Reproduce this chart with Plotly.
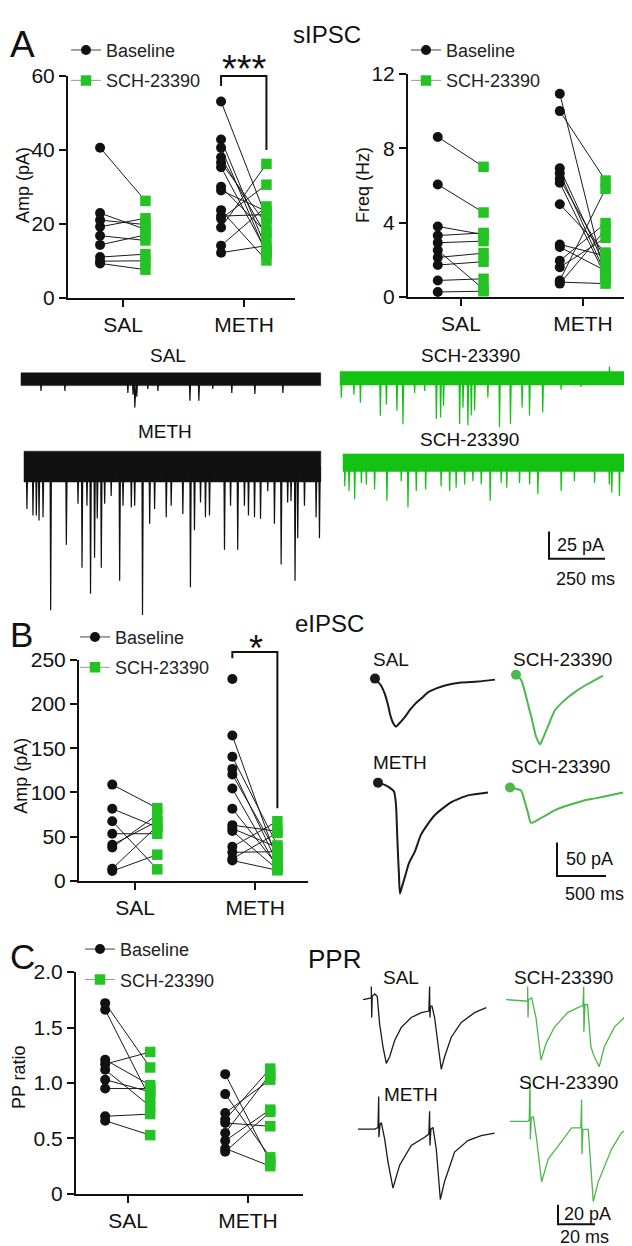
import plotly.graph_objects as go

W, H = 632, 1246
FONT = "Liberation Sans, Arial, sans-serif"
BLACK = "#111111"
GREEN_MK = "#22C322"
GREEN_TR = "#14C214"
GREEN_EV = "#4CB84C"

groups = ["SAL", "METH"]

# ---------------- paired data (Baseline -> SCH-23390) ----------------
a_amp_sal_base = [40.6, 22.9, 21.0, 19.2, 16.8, 14.3, 11.0, 9.9, 9.3]
a_amp_sal_sch = [26.2, 18.5, 19.8, 21.5, 15.5, 17.0, 11.8, 10.0, 7.6]
a_amp_meth_base = [53.1, 42.8, 40.6, 38.0, 36.6, 35.3, 30.0, 29.0, 23.7, 22.1, 21.4, 19.0, 14.1, 12.2]
a_amp_meth_sch = [21.6, 13.2, 11.9, 16.8, 19.9, 12.5, 17.7, 23.4, 10.1, 22.5, 30.6, 36.2, 24.7, 14.1]

a_freq_sal_base = [8.61, 6.05, 3.79, 3.30, 2.91, 2.51, 2.12, 1.71, 0.88, 0.26]
a_freq_sal_sch = [7.0, 4.54, 3.35, 3.44, 3.0, 0.41, 2.35, 1.89, 0.97, 0.30]
a_freq_meth_base = [10.94, 10.0, 6.92, 6.65, 6.35, 6.14, 4.98, 2.82, 2.68, 1.94, 1.59, 0.88, 0.79, 0.71]
a_freq_meth_sch = [0.97, 6.26, 1.59, 1.24, 2.03, 1.1, 2.38, 2.2, 1.4, 3.97, 3.18, 5.82, 0.71, 3.62]

b_amp_sal_base = [108.9, 81.5, 67.4, 53.3, 40.7, 37.8, 13.7, 11.1]
b_amp_sal_sch = [82.2, 60.7, 13.0, 53.3, 67.4, 74.8, 62.0, 29.6]
b_amp_meth_base = [228.5, 164.4, 140.4, 126.7, 120.4, 104.4, 81.5, 63.0, 59.3, 56.3, 38.5, 32.2, 24.8, 23.0]
b_amp_meth_sch = [None, 23.0, 40.0, 20.0, 30.4, 15.0, 17.4, 56.0, 37.8, 13.0, 67.4, 33.0, 54.4, 11.9]

c_ppr_sal_base = [1.72, 1.66, 1.21, 1.17, 1.12, 1.03, 0.95, 0.70, 0.66]
c_ppr_sal_sch = [1.14, 0.86, 0.98, 1.28, 0.79, 0.92, 0.95, 0.72, 0.53]
c_ppr_meth_base = [1.08, 0.90, 0.73, 0.67, 0.64, 0.55, 0.48, 0.41, 0.38]
c_ppr_meth_sch = [0.29, 0.33, 1.03, 1.13, 0.61, 1.08, 0.76, 0.25, 0.74]

# ---------------- sIPSC example traces (event time ms, amplitude pA) ----------------
sal_ev_t = [89, 196, 477, 500, 508, 517, 566, 611, 754, 794, 856, 941, 1044, 1169]
sal_ev_a = [10.7, 10.7, 12.5, 14, 25.8, 16, 8.9, 10.7, 19.6, 19.6, 8.9, 12.5, 13.4, 12.5]
sal_noise, sal_dur = 5.8, 1338

sch1_ev_t = [6, 62, 91, 180, 207, 254, 281, 333, 378, 430, 449, 462, 534, 549, 571, 586, 601, 660,
             712, 761, 813, 846, 905, 987, 1076, 1203, 1298]
sch1_ev_a = [17.8, 14.9, 22.3, 34.1, 23.8, 29.6, 41.8, 13.4, 11.6, 37.1, 35.6, 24.9, 41.6, 26.7, 42.7,
             33.8, 29.4, 17.8, 44.5, 41.6, 26.7, 33.8, 31.2, 10.4, 8.0, -10.7, -10.7]
sch1_noise, sch1_dur = 6.2, 1320

meth_ev_t = [13, 40, 55, 67, 85, 119, 189, 241, 259, 281, 297, 315, 327, 345, 360, 389, 427, 442, 479,
             494, 529, 561, 583, 635, 657, 709, 743, 761, 788, 810, 828, 895, 922, 954, 984, 1002, 1029,
             1056, 1088, 1118, 1148, 1177, 1192, 1210, 1222, 1252, 1304, 1319]
meth_ev_a = [38.5, 44.5, 44.5, 49, 46, 130.6, 71.2, 33.8, 91.9, 35.6, 115.7, 83, 47.2, 91.9, 33.8, 26.7,
             103.9, 35.6, 37.1, 35.6, 135, 51.9, 38.5, 46, 35.6, 43, 109.7, 57.9, 32.7, 46, 44.5, 75.7,
             35.6, 75.7, 35.6, 44.5, 46, 47.4, 22.3, 51.9, 89, 32.7, 31.2, 103.9, 65.2, 35.6, 46, 65.2]
meth_noise, meth_dur = 14, 1325

sch2_ev_t = [8, 27, 52, 82, 104, 141, 196, 260, 290, 327, 369, 438, 476, 505, 543, 580, 617, 657, 706,
             731, 788, 833, 870, 974, 1033, 1123, 1189, 1200, 1234, 1279]
sch2_ev_a = [21.4, 25.8, 33.2, 18.4, 19.8, 24.3, 34.7, 16.9, 40.7, 25.8, 24.3, 21.4, 25.8, 22.9, 19.8,
             16.9, 19.8, 34.7, 18.4, 22.9, 18.4, 19.8, 28.7, 25.8, 16.9, 18.4, 19.8, 27.3, 30.3, 15.4]
sch2_noise, sch2_dur = 8, 1302

# ---------------- eIPSC example traces (ms, pA) ----------------
e_sal_t = [0, 61, 102, 133, 153, 184, 214, 245, 306, 357, 408, 475, 541, 626, 714, 877, 1050, 1224]
e_sal_i = [0, -10.3, -23.5, -39.7, -52.9, -66.2, -72.0, -67.6, -57.3, -47.0, -38.2, -29.4, -20.6, -14.7,
           -10.3, -5.9, -4.4, -1.5]
e_sch1_t = [0, 51, 92, 122, 153, 173, 204, 245, 270, 296, 347, 398, 464, 531, 612, 704, 796, 887]
e_sch1_i = [0, -7.4, -26.5, -44.1, -61.7, -73.5, -92.6, -104.4, -97.0, -88.2, -69.8, -52.9, -42.6, -33.8,
            -25.0, -16.2, -8.8, -1.5]
e_meth_t = [0, 61, 102, 163, 184, 194, 204, 214, 224, 245, 275, 316, 377, 439, 510, 581, 663, 745, 918, 1122]
e_meth_i = [0, -2.9, -5.9, -13.2, -33.8, -70.6, -107.3, -138.2, -166.1, -155.8, -141.1, -120.5, -102.9,
            -77.9, -61.7, -48.5, -38.2, -29.4, -19.1, -14.7]
e_sch2_t = [0, 51, 112, 133, 153, 184, 214, 265, 316, 388, 459, 561, 663, 765, 867, 1010, 1153]
e_sch2_i = [0, -1.5, -4.4, -11.8, -22.1, -38.2, -52.9, -50.0, -45.6, -39.7, -33.8, -27.9, -23.5, -19.1,
            -16.2, -11.8, -7.4]

# ---------------- PPR example traces (ms, pA) ----------------
p_sal_t = [0, 3.6, 4.5, 4.5, 4.7, 5.0, 6.3, 7.7, 9.0, 10.8, 12.6, 14.4, 17.1, 20.7, 26.1, 31.5, 35.6,
           36.0, 36.2, 36.5, 37.3, 38.7, 40.5, 42.3, 44.1, 47.7, 53.1, 60.3, 66.6]
p_sal_i = [0, 1.7, 1.7, 13.3, -18.3, 3.3, 5.7, 3.3, -25, -48.3, -65, -58.3, -41.7, -28.3, -18.3, -13.3,
           -11.7, 13.3, -18.3, -6.7, -6.7, -18.3, -45, -71, -58.3, -38.3, -23.3, -13.3, -8.3]
p_sch1_t = [0, 9.9, 11.7, 11.7, 11.9, 12.2, 13.9, 16.2, 18.9, 21.6, 26.1, 33.3, 40.5, 41.6, 42.0, 42.1,
            42.7, 44.1, 45.9, 47.7, 50.4, 53.1, 58.5, 65.7, 72.0]
p_sch1_i = [0, -1.7, -1.7, 13.3, -18.3, 0, 1.7, -18.3, -61.7, -45, -28.3, -13.3, -6.7, -6.7, 13.3, -33.3,
            -5, -5, -48.3, -58.3, -68.3, -48.3, -28.3, -15, -16.7]
p_meth_t = [0, 9.0, 10.8, 11.2, 11.3, 11.9, 12.6, 14.4, 16.2, 18.9, 22.5, 28.8, 36.0, 38.3, 38.7, 38.9,
            39.4, 40.5, 42.3, 44.5, 46.8, 52.2, 59.4, 66.6, 73.8]
p_meth_i = [0, 0, 1.7, 33.3, -8.3, 5, 6.7, -10, -33.3, -60, -36.7, -16.7, -8.3, -5, 18.3, -16.7, 0, 1.7,
            -20, -71.7, -53.3, -23.3, -11.7, -6.7, -4]
p_sch2_t = [0, 9.9, 10.4, 10.8, 11.0, 11.5, 12.6, 14.4, 17.1, 20.7, 26.1, 33.3, 38.3, 38.7, 38.9, 39.4,
            42.3, 44.1, 45.0, 47.7, 54.9, 60.3, 65.7]
p_sch2_i = [0, 0, 1.7, 43.3, -18.3, 3.3, 5, -18.3, -61.7, -38.3, -25, -6.7, -6.7, 22.3, -33.3, -8.3, -8.3,
            -61.7, -81.7, -61.7, -28.3, -11.7, -5]

# scale bars (pA, ms)
sips_bar = (25, 250)
eips_bar = (50, 500)
ppr_bar = (20, 20)

# ---------------- layout helpers ----------------
def fx(px):
    return px / W


def fy(py):
    return 1 - py / H


OFF_B, OFF_S = 0.19, 0.185
TICKFONT = 21

fig = go.Figure()
layout = dict(width=W, height=H, margin=dict(l=0, r=0, t=0, b=0), paper_bgcolor="white",
              plot_bgcolor="rgba(0,0,0,0)", font=dict(family=FONT, color=BLACK), showlegend=True)

panels = [
    ("", (60, 287), (283, 57), [0.545, 2.421], [0, 60], [0, 20, 40, 60], ["0", "20", "40", "60"],
     [(a_amp_sal_base, a_amp_sal_sch), (a_amp_meth_base, a_amp_meth_sch)], "legend"),
    ("2", (400, 625), (282, 55), [0.566, 2.41], [0, 12], [0, 4, 8, 12], ["0", "4", "8", "12"],
     [(a_freq_sal_base, a_freq_sal_sch), (a_freq_meth_base, a_freq_meth_sch)], "legend2"),
    ("3", (71, 300), (877, 652), [0.533, 2.44], [0, 250], [0, 50, 100, 150, 200, 250],
     ["0", "50", "100", "150", "200", "250"],
     [(b_amp_sal_base, b_amp_sal_sch), (b_amp_meth_base, b_amp_meth_sch)], "legend3"),
    ("4", (68, 295), (1196, 970), [0.567, 2.458], [0, 2.0], [0, 0.5, 1.0, 1.5, 2.0],
     ["0", "0.5", "1.0", "1.5", "2.0"],
     [(c_ppr_sal_base, c_ppr_sal_sch), (c_ppr_meth_base, c_ppr_meth_sch)], "legend4"),
]

for pid, xpx, ypx, xr, yr, tv, tt, data, leg in panels:
    xa, ya = "x" + pid, "y" + pid
    common = dict(showline=True, linewidth=2, linecolor=BLACK, ticks="outside", ticklen=7, tickwidth=2,
                  tickcolor=BLACK, showgrid=False, zeroline=False,
                  tickfont=dict(size=TICKFONT, color=BLACK), fixedrange=True)
    layout["xaxis" + pid] = dict(domain=[fx(xpx[0]), fx(xpx[1])], range=xr, anchor=ya,
                                 tickvals=[1, 2], ticktext=groups, **common)
    layout["yaxis" + pid] = dict(domain=[fy(ypx[0]), fy(ypx[1])], range=yr, anchor=xa,
                                 tickvals=tv, ticktext=tt, **common)
    lx, ly = [], []
    bx, by, sx, sy = [], [], [], []
    for gi, (bl, sl) in enumerate(data):
        c = gi + 1
        for b, s in zip(bl, sl):
            bx.append(c - OFF_B)
            by.append(b)
            if s is None:
                continue
            sx.append(c + OFF_S)
            sy.append(s)
            lx += [c - OFF_B, c + OFF_S, None]
            ly += [b, s, None]
    fig.add_trace(go.Scatter(x=lx, y=ly, mode="lines", line=dict(color="#1a1a1a", width=1),
                             xaxis=xa, yaxis=ya, showlegend=False, hoverinfo="skip"))
    fig.add_trace(go.Scatter(x=sx, y=sy, mode="markers", cliponaxis=False,
                             marker=dict(symbol="square", size=10.5, color=GREEN_MK),
                             xaxis=xa, yaxis=ya, showlegend=False))
    fig.add_trace(go.Scatter(x=bx, y=by, mode="markers", cliponaxis=False,
                             marker=dict(symbol="circle", size=10, color=BLACK),
                             xaxis=xa, yaxis=ya, showlegend=False))
    fig.add_trace(go.Scatter(x=[None], y=[None], mode="lines+markers", name="Baseline",
                             line=dict(color="#444444", width=1), legendgroup="b" + pid,
                             marker=dict(symbol="circle", size=10, color=BLACK),
                             xaxis=xa, yaxis=ya, legend=leg))
    fig.add_trace(go.Scatter(x=[None], y=[None], mode="lines+markers", name="SCH-23390",
                             line=dict(color="#999999", width=1), legendgroup="s" + pid,
                             marker=dict(symbol="square", size=10.5, color=GREEN_MK),
                             xaxis=xa, yaxis=ya, legend=leg))

legend_pos = {"legend": (58, 12), "legend2": (398, 12), "legend3": (67, 610), "legend4": (72, 928)}
for k, (lxp, lyp) in legend_pos.items():
    layout[k] = dict(x=fx(lxp), y=fy(lyp), xanchor="left", yanchor="top", traceorder="grouped",
                     bgcolor="rgba(0,0,0,0)", font=dict(size=18, color="#222222", family=FONT),
                     itemwidth=30, tracegroupgap=4)

# ---------------- trace sections (overlay axes) ----------------
sections = {
    "5": (250 / 56, 25 / 28),   # sIPSC: ms per px, pA per px
    "6": (500 / 49, 50 / 34),   # eIPSC
    "7": (20 / 37, 20 / 20),    # PPR
}
for sid, (msx, pay) in sections.items():
    layout["xaxis" + sid] = dict(domain=[0, 1], range=[0, W * msx], anchor="y" + sid, visible=False,
                                 fixedrange=True)
    layout["yaxis" + sid] = dict(domain=[0, 1], range=[-H * pay, 0], anchor="x" + sid, visible=False,
                                 fixedrange=True)


def place(sid, x0, y0):
    msx, pay = sections[sid]
    return x0 * msx, -y0 * pay


def add_spont(sid, x0, y0, ev_t, ev_a, noise, dur, color):
    ox, oy = place(sid, x0, y0)
    fig.add_trace(go.Scatter(x=[ox, ox + dur, ox + dur, ox, ox],
                             y=[oy + noise, oy + noise, oy - noise, oy - noise, oy + noise],
                             mode="lines", fill="toself", fillcolor=color, line=dict(width=0.5, color=color),
                             xaxis="x" + sid, yaxis="y" + sid, showlegend=False, hoverinfo="skip"))
    xs, ys = [ox], [oy]
    for t, a in sorted(zip(ev_t, ev_a)):
        xs += [ox + t - 2.5, ox + t, ox + t + 3.5]
        ys += [oy, oy - a, oy]
    xs.append(ox + dur)
    ys.append(oy)
    fig.add_trace(go.Scatter(x=xs, y=ys, mode="lines", line=dict(color=color, width=1.2),
                             xaxis="x" + sid, yaxis="y" + sid, showlegend=False, hoverinfo="skip"))


add_spont("5", 13, 366, sal_ev_t, sal_ev_a, sal_noise, sal_dur, BLACK)
add_spont("5", 332, 365, sch1_ev_t, sch1_ev_a, sch1_noise, sch1_dur, GREEN_TR)
add_spont("5", 16, 455, meth_ev_t, meth_ev_a, meth_noise, meth_dur, BLACK)
add_spont("5", 335, 451, sch2_ev_t, sch2_ev_a, sch2_noise, sch2_dur, GREEN_TR)


def add_wave(sid, x0, y0, t, i, color, width, dot=False):
    ox, oy = place(sid, x0, y0)
    fig.add_trace(go.Scatter(x=[ox + v for v in t], y=[oy + v for v in i], mode="lines",
                             line=dict(color=color, width=width, shape="spline", smoothing=0.6),
                             xaxis="x" + sid, yaxis="y" + sid, showlegend=False, hoverinfo="skip"))
    if dot:
        fig.add_trace(go.Scatter(x=[ox + t[0]], y=[oy + i[0]], mode="markers",
                                 marker=dict(size=10, color=color), xaxis="x" + sid, yaxis="y" + sid,
                                 showlegend=False, hoverinfo="skip"))


def add_ppr(sid, x0, y0, t, i, color, width):
    ox, oy = place(sid, x0, y0)
    fig.add_trace(go.Scatter(x=[ox + v for v in t], y=[oy + v for v in i], mode="lines",
                             line=dict(color=color, width=width), xaxis="x" + sid, yaxis="y" + sid,
                             showlegend=False, hoverinfo="skip"))


add_wave("6", 367, 671, e_sal_t, e_sal_i, "#1a1a1a", 2, dot=True)
add_wave("6", 508, 667, e_sch1_t, e_sch1_i, GREEN_EV, 2, dot=True)
add_wave("6", 370, 777, e_meth_t, e_meth_i, "#1a1a1a", 2, dot=True)
add_wave("6", 502, 782, e_sch2_t, e_sch2_i, GREEN_EV, 2, dot=True)

add_ppr("7", 355, 998, p_sal_t, p_sal_i, "#1a1a1a", 1.3)
add_ppr("7", 498, 998, p_sch1_t, p_sch1_i, GREEN_EV, 1.3)
add_ppr("7", 350, 1130, p_meth_t, p_meth_i, "#1a1a1a", 1.3)
add_ppr("7", 502, 1122, p_sch2_t, p_sch2_i, GREEN_EV, 1.3)


def add_bar(sid, x0, y0, bar):
    ox, oy = place(sid, x0, y0)
    amp, dur = bar
    fig.add_trace(go.Scatter(x=[ox, ox, ox + dur], y=[oy + amp, oy, oy], mode="lines",
                             line=dict(color=BLACK, width=2), xaxis="x" + sid, yaxis="y" + sid,
                             showlegend=False, hoverinfo="skip"))


add_bar("5", 541, 549, sips_bar)
add_bar("6", 549, 872, eips_bar)
add_bar("7", 550, 1227, ppr_bar)

# ---------------- significance brackets ----------------
shapes = []
for xa, ya, top, lbot, rbot in [("x", "y domain", 1.0, 0.955, 40 / 60),
                                ("x3", "y3 domain", 1.036, 1.008, 82 / 250)]:
    shapes.append(dict(type="path", xref=xa, yref=ya,
                       path=f"M {2 - OFF_B},{lbot} L {2 - OFF_B},{top} L {2 + OFF_S},{top} L {2 + OFF_S},{rbot}",
                       line=dict(color=BLACK, width=2)))
layout["shapes"] = shapes

# ---------------- text ----------------
ann = []


def text(px, py, s, size, anchor="center", angle=0, color=BLACK):
    ann.append(dict(x=fx(px), y=fy(py), xref="paper", yref="paper", text=s, showarrow=False,
                    xanchor=anchor, yanchor="middle", textangle=angle,
                    font=dict(size=size, color=color, family=FONT)))


text(0, 25, "A", 37, "left")
text(0, 626, "B", 35, "left")
text(0, 954, "C", 35, "left")
text(319, 15, "sIPSC", 24)
text(321, 615, "eIPSC", 24)
text(326, 957, "PPR", 26)
text(236, 50, "***", 38)
text(248, 640, "*", 36)
text(15, 168, "Amp (pA)", 18, angle=-90)
text(355, 168, "Freq (Hz)", 18, angle=-90)
text(13, 770, "Amp (pA)", 18, angle=-90)
text(11, 1077, "PP ratio", 18, angle=-90)

text(160, 342, "SAL", 19)
text(157, 419, "METH", 19)
text(462, 342, "SCH-23390", 19)
text(461, 427, "SCH-23390", 19)
text(572, 535, "25 pA", 18)
text(577, 570, "250 ms", 18)

text(383, 652, "SAL", 19)
text(554, 652, "SCH-23390", 19)
text(392, 756, "METH", 19)
text(552, 761, "SCH-23390", 19)
text(581, 855, "50 pA", 18)
text(586, 890, "500 ms", 18)

text(393, 976, "SAL", 19)
text(555, 976, "SCH-23390", 19)
text(403, 1095, "METH", 19)
text(560, 1082, "SCH-23390", 19)
text(579, 1216, "20 pA", 18)
text(576, 1240, "20 ms", 18)

layout["annotations"] = ann
fig.update_layout(**layout)
fig.write_html("out.html")
